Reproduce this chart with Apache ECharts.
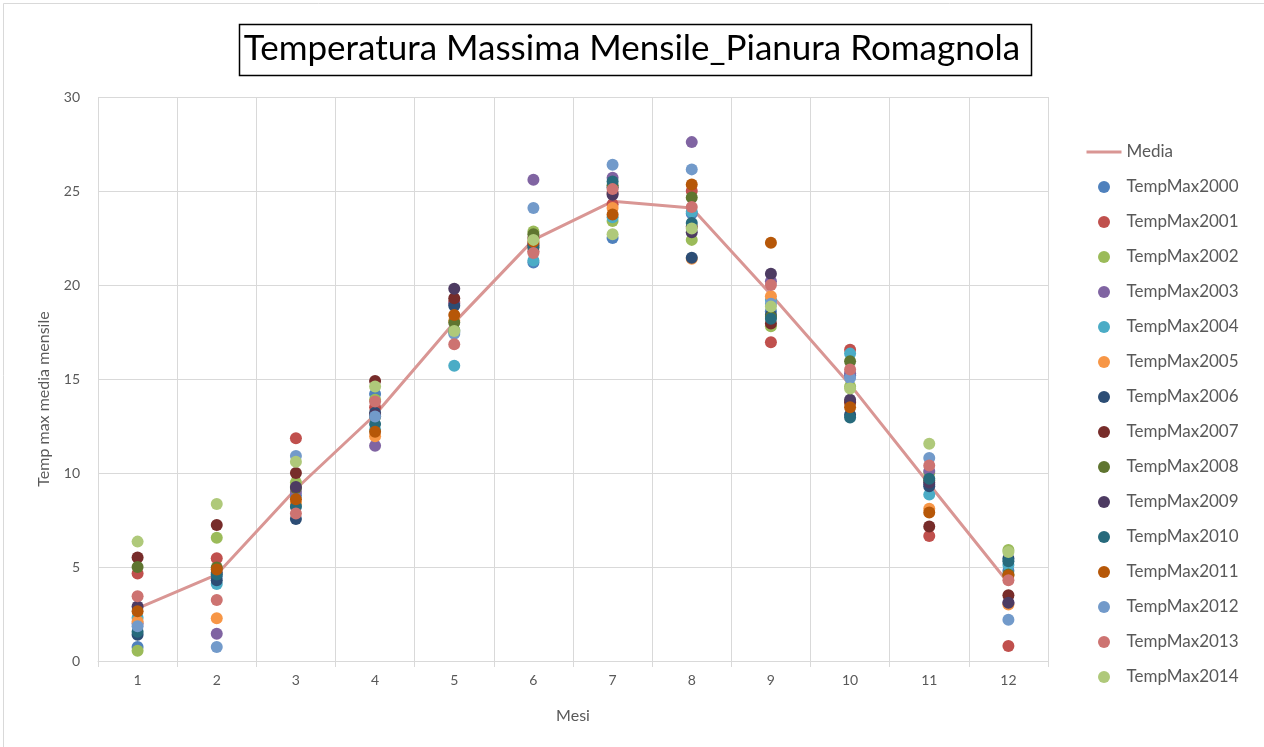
<!DOCTYPE html>
<html><head><meta charset="utf-8">
<script src="https://cdn.jsdelivr.net/npm/echarts@6/dist/echarts.min.js"></script>
<style>html,body{margin:0;padding:0;background:#fff}#c{width:1264px;height:747px}</style>
</head><body><div id="c"></div>
<script>
const months = ['1','2','3','4','5','6','7','8','9','10','11','12'];
const media = [2.8, 4.6, 9.15, 13.1, 18.0, 22.4, 24.45, 24.1, 19.5, 14.7, 9.4, 4.15];
const t2000 = [0.75, 4.5, 8.8, 14.2, 17.6, 21.2, 22.5, 23.8, 18.6, 15.2, 9.4, 4.8];
const t2001 = [4.65, 5.46, 11.85, 13.5, 19.1, 21.8, 24.3, 25.0, 16.95, 16.55, 6.65, 0.8];
const t2002 = [0.55, 6.55, 9.5, 13.9, 17.6, 22.85, 23.4, 22.4, 17.8, 14.6, 10.0, 5.9];
const t2003 = [2.0, 1.45, 9.0, 11.45, 19.0, 25.6, 25.7, 27.6, 20.2, 15.3, 10.1, 3.1];
const t2004 = [2.3, 4.1, 8.3, 12.3, 15.7, 21.3, 23.6, 23.9, 19.2, 16.35, 8.85, 5.1];
const t2005 = [2.1, 2.27, 8.4, 11.95, 18.1, 22.0, 24.1, 21.4, 19.4, 13.8, 8.1, 3.0];
const t2006 = [1.4, 4.3, 7.55, 13.2, 18.9, 22.1, 25.2, 21.45, 18.4, 13.1, 9.3, 5.45];
const t2007 = [5.5, 7.23, 10.0, 14.9, 19.3, 22.5, 24.9, 23.1, 17.95, 13.75, 7.15, 3.5];
const t2008 = [5.0, 4.98, 9.2, 13.0, 18.0, 22.7, 25.3, 24.65, 18.3, 15.95, 9.6, 4.6];
const t2009 = [2.9, 4.7, 9.25, 13.1, 19.8, 22.2, 24.8, 22.8, 20.6, 13.9, 9.5, 3.1];
const t2010 = [1.55, 4.6, 8.2, 12.6, 17.5, 22.0, 25.5, 23.3, 18.2, 12.95, 9.7, 5.3];
const t2011 = [2.65, 4.87, 8.6, 12.2, 18.4, 22.3, 23.75, 25.35, 22.25, 13.5, 7.9, 4.55];
const t2012 = [1.85, 0.75, 10.9, 13.0, 17.4, 24.1, 26.4, 26.15, 19.0, 15.05, 10.8, 2.2];
const t2013 = [3.45, 3.24, 7.85, 13.8, 16.85, 21.7, 25.1, 24.15, 20.0, 15.5, 10.4, 4.3];
const t2014 = [6.35, 8.35, 10.6, 14.6, 17.55, 22.4, 22.7, 23.0, 18.85, 14.5, 11.55, 5.8];
const yTicks = [0, 5, 10, 15, 20, 25, 30];

const yearNames = ['TempMax2000','TempMax2001','TempMax2002','TempMax2003','TempMax2004','TempMax2005','TempMax2006','TempMax2007','TempMax2008','TempMax2009','TempMax2010','TempMax2011','TempMax2012','TempMax2013','TempMax2014'];
const yearData = [t2000,t2001,t2002,t2003,t2004,t2005,t2006,t2007,t2008,t2009,t2010,t2011,t2012,t2013,t2014];
const yearColors = ['#4F81BD','#C0504D','#9BBB59','#8064A2','#4BACC6','#F79646','#2C4D75','#772C2A','#5F7530','#4D3B62','#276A7C','#B65708','#729ACA','#CD7371','#AFC97A'];

const FONT = 'Lato, "Liberation Sans", sans-serif';
const chart = echarts.init(document.getElementById('c'), null, {renderer:'canvas'});
const series = [{
  name:'Media', type:'line', data: media, symbol:'none', z:1,
  lineStyle:{color:'#D99694', width:3}, itemStyle:{color:'#D99694'}
}];
yearNames.forEach((n,i)=>series.push({
  name:n, type:'scatter', data: yearData[i], symbol:'circle', symbolSize:12, z:2,
  itemStyle:{color: yearColors[i], opacity:1}
}));
chart.setOption({
  animation:false,
  backgroundColor:'#fff',
  title:{text:'Temperatura Massima Mensile_Pianura Romagnola', left:'center', top:26,
    textStyle:{fontFamily:FONT, fontSize:35, fontWeight:'normal', color:'#000'}},
  graphic:[
    {type:'rect', left:1, top:1, shape:{width:1261, height:744}, style:{fill:'none', stroke:'#D9D9D9', lineWidth:1}, silent:true},
    {type:'rect', left:237, top:22, shape:{width:792, height:51}, style:{fill:'none', stroke:'#000', lineWidth:1.5}, silent:true}
  ],
  grid:{left:98, right:216, top:97, bottom:86, containLabel:false},
  legend:{orient:'vertical', left:1080, top:137, itemWidth:35, itemHeight:12, itemGap:15,
    textStyle:{fontFamily:FONT, fontSize:17, color:'#595959', lineHeight:20},
    data: [{name:'Media', itemStyle:{opacity:0}, lineStyle:{color:'#D99694', width:3, opacity:1}}].concat(yearNames)},
  xAxis:{type:'category', data: months, boundaryGap:true, name:'Mesi', nameLocation:'middle', nameGap:47,
    nameTextStyle:{fontFamily:FONT, fontSize:16, color:'#595959'},
    axisLine:{lineStyle:{color:'#D9D9D9', width:1}},
    axisTick:{show:true, length:6, lineStyle:{color:'#D9D9D9'}},
    axisLabel:{fontFamily:FONT, fontSize:14, color:'#595959', margin:12},
    splitLine:{show:true, lineStyle:{color:'#D9D9D9', width:1}}},
  yAxis:{type:'value', min:yTicks[0], max:yTicks[yTicks.length-1], interval:5, name:'Temp max media mensile',
    nameLocation:'middle', nameGap:46, nameRotate:90,
    nameTextStyle:{fontFamily:FONT, fontSize:16, color:'#595959', padding:[0,40,0,0]},
    axisLine:{show:false}, axisTick:{show:false},
    axisLabel:{fontFamily:FONT, fontSize:14, color:'#595959', margin:18},
    splitLine:{show:true, lineStyle:{color:'#D9D9D9', width:1}}},
  series: series
});
</script></body></html>
